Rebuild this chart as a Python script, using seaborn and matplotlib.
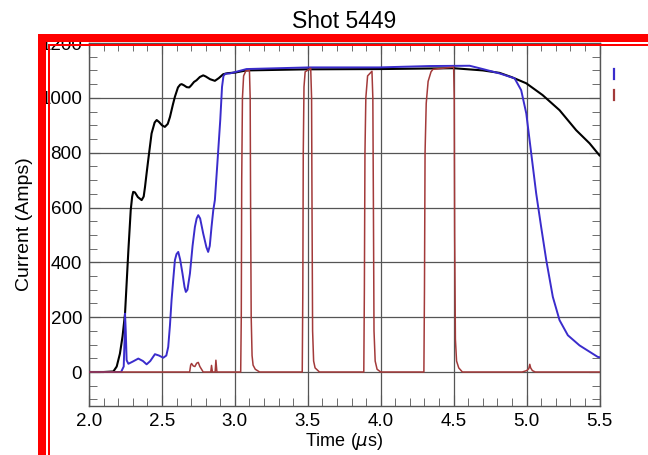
import numpy as np
import pandas as pd
import matplotlib
matplotlib.use("Agg")
import matplotlib.pyplot as plt
from matplotlib.patches import Rectangle
from matplotlib.lines import Line2D
from matplotlib.ticker import MultipleLocator
import seaborn as sns

plt.rcParams['font.family'] = ['Liberation Sans', 'DejaVu Sans']
plt.rcParams['mathtext.fontset'] = 'dejavusans'

# ---- data ----
black_t = [2.00, 2.10, 2.167, 2.19, 2.212, 2.23, 2.247, 2.27, 2.286, 2.296, 2.303,
           2.315, 2.335, 2.361, 2.375, 2.384, 2.395, 2.406, 2.429, 2.45, 2.464, 2.48,
           2.50, 2.52, 2.54, 2.555, 2.575, 2.589, 2.61, 2.625, 2.635, 2.65, 2.67,
           2.687, 2.70, 2.72, 2.737, 2.76, 2.783, 2.80, 2.83, 2.863, 2.89, 2.92,
           2.95, 3.0, 3.08, 3.5, 4.0, 4.5, 4.7, 4.815, 4.9, 4.998, 5.11, 5.226,
           5.34, 5.432, 5.5]
black_i = [0, 0, 2, 20, 67, 130, 213, 444, 590, 640, 657,
           655, 638, 627, 640, 675, 725, 773, 870, 910, 919, 912,
           900, 894, 905, 930, 975, 1004, 1038, 1048, 1050, 1046, 1039,
           1038, 1045, 1058, 1064, 1076, 1082, 1078, 1068, 1062, 1072, 1086,
           1090, 1092, 1100, 1104, 1105, 1108, 1100, 1091, 1075, 1053, 1010, 955,
           882, 834, 790]

blue_t = [2.00, 2.22, 2.238, 2.244, 2.247, 2.252, 2.258, 2.27, 2.30, 2.338, 2.37,
          2.395, 2.42, 2.452, 2.48, 2.509, 2.53, 2.543, 2.555, 2.566, 2.578, 2.589,
          2.60, 2.612, 2.625, 2.641, 2.655, 2.664, 2.675, 2.692, 2.71, 2.726, 2.738,
          2.749, 2.762, 2.783, 2.805, 2.817, 2.828, 2.84, 2.852, 2.863, 2.88, 2.90,
          2.912, 2.922, 2.935, 2.966, 3.08, 3.51, 3.99, 4.336, 4.61, 4.7, 4.815,
          4.918, 4.963, 4.998, 5.032, 5.066, 5.10, 5.135, 5.18, 5.226, 5.283, 5.363,
          5.488, 5.5]
blue_i = [0, 0, 20, 120, 213, 150, 43, 30, 38, 49, 40,
          28, 40, 65, 60, 52, 60, 91, 170, 262, 340, 408,
          430, 438, 410, 359, 310, 292, 300, 359, 460, 529, 560,
          572, 560, 505, 455, 438, 460, 529, 590, 627, 760, 920,
          1040, 1080, 1088, 1089, 1105, 1111, 1111, 1116, 1117, 1105, 1089,
          1071, 1028, 943, 797, 651, 529, 408, 274, 189, 134, 97,
          55, 54]

red_t = [2.00, 2.69, 2.697, 2.703, 2.715, 2.726, 2.738, 2.749, 2.76, 2.783, 2.835,
         2.84, 2.846, 2.865, 2.87, 2.877,
         3.040, 3.044, 3.047, 3.052, 3.06, 3.075, 3.10, 3.105, 3.108, 3.112, 3.118,
         3.125, 3.14, 3.17,
         3.462, 3.466, 3.469, 3.474, 3.482, 3.52, 3.526, 3.529, 3.533, 3.54, 3.55, 3.58,
         3.884, 3.888, 3.892, 3.898, 3.91, 3.94, 3.946, 3.95, 3.954, 3.962, 3.975, 4.0,
         4.296, 4.300, 4.304, 4.312, 4.325, 4.345, 4.358, 4.50, 4.504, 4.507, 4.512,
         4.52, 4.535, 4.56,
         4.97, 5.00, 5.015, 5.022, 5.028, 5.04, 5.06, 5.5]
red_i = [0, 0, 25, 31, 22, 20, 32, 35, 20, 0, 0,
         24, 0, 0, 43, 0,
         0, 200, 700, 1000, 1080, 1098, 1100, 1000, 600, 200, 60,
         25, 10, 0,
         0, 300, 800, 1040, 1095, 1108, 1000, 600, 150, 40, 15, 0,
         0, 300, 800, 1000, 1080, 1097, 1000, 600, 150, 40, 10, 0,
         0, 300, 800, 980, 1060, 1095, 1104, 1112, 1000, 500, 120,
         40, 15, 0,
         0, 5, 12, 28, 15, 5, 0, 0]

x_ticks = [2.0, 2.5, 3.0, 3.5, 4.0, 4.5, 5.0, 5.5]
y_ticks = [0, 200, 400, 600, 800, 1000, 1200]

W, H = 648, 455
fig = plt.figure(figsize=(W / 100, H / 100), dpi=100)
ax = fig.add_axes([89 / W, 1 - 406 / H, (599.5 - 89) / W, (406 - 43) / H])

sns.lineplot(x=black_t, y=black_i, color='black', lw=1.5, ax=ax,
             estimator=None, sort=False, zorder=3)
sns.lineplot(x=blue_t, y=blue_i, color='#3a2ccc', lw=1.4, ax=ax,
             estimator=None, sort=False, zorder=4)
sns.lineplot(x=red_t, y=red_i, color='#a33a3a', lw=1.1, ax=ax,
             estimator=None, sort=False, zorder=5)

ax.set_xlim(2.0, 5.5)
ax.set_ylim(-124, 1200)
ax.set_xticks(x_ticks)
ax.set_xticklabels([f"{v:.1f}" for v in x_ticks])
ax.set_yticks(y_ticks)
ax.set_yticklabels([str(v) for v in y_ticks])
ax.xaxis.set_minor_locator(MultipleLocator(0.1))
ax.yaxis.set_minor_locator(MultipleLocator(50))
ax.tick_params(which='both', direction='in', top=True, right=True,
               color='#555555', labelsize=13.5, pad=5)
ax.tick_params(which='major', length=8)
ax.tick_params(which='minor', length=6)
ax.grid(True, which='major', color='#555555', lw=0.9)
for s in ax.spines.values():
    s.set_color('#555555')
    s.set_linewidth(1.0)

ax.set_title("Shot 5449", fontsize=16.5, pad=11)
ax.set_xlabel(r"Time ($\mu$s)", fontsize=13, labelpad=1)
ax.set_ylabel("Current (Amps)", fontsize=14, labelpad=5)

# red frame annotation
def px_rect(x0, y0, x1, y1):
    fig.add_artist(Rectangle((x0 / W, 1 - y1 / H), (x1 - x0) / W, (y1 - y0) / H,
                             transform=fig.transFigure, facecolor='#ff0000',
                             edgecolor='none'))

px_rect(38, 34, W, 41.5)
px_rect(38, 34, 46, H)
px_rect(48, 44.3, W, 45.8)
px_rect(48, 44.3, 49.6, H)

# partial legend marks at right edge
fig.add_artist(Line2D([613.5 / W, 613.5 / W], [1 - 69 / H, 1 - 79 / H],
                      transform=fig.transFigure, color='#3a2ccc', lw=1.6))
fig.add_artist(Line2D([613.5 / W, 613.5 / W], [1 - 90 / H, 1 - 100 / H],
                      transform=fig.transFigure, color='#a33a3a', lw=1.6))

fig.savefig("out.png", dpi=100)
